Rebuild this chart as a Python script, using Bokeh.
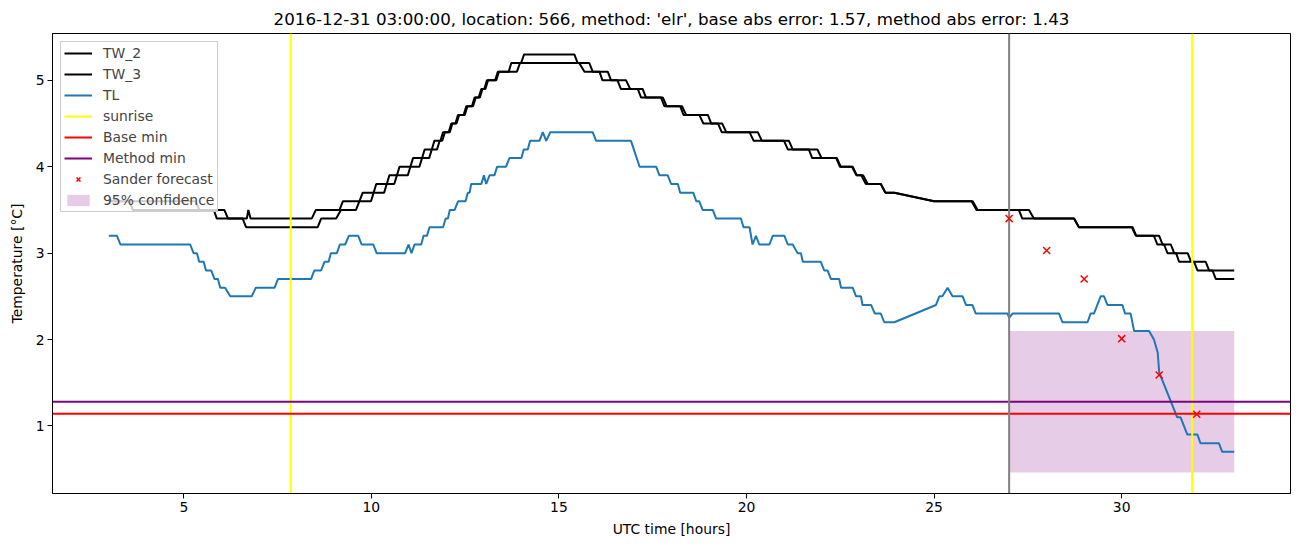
from bokeh.plotting import figure
from bokeh.models import Range1d, FixedTicker, Legend, LegendItem
from bokeh.embed import file_html
from bokeh.resources import INLINE

# ---------------- data ----------------
tw2_t = [3.0, 5.32, 5.41, 6.08, 6.18, 6.68, 6.72, 6.78, 8.41, 8.52, 9.15, 9.24, 9.68, 9.77, 10.06, 10.13,
         10.41, 10.48, 10.68, 10.75, 11.04, 11.11, 11.35, 11.42, 11.61, 11.68, 11.84, 11.91, 12.06, 12.13,
         12.24, 12.31, 12.46, 12.53, 12.68, 12.75, 12.86, 12.93, 13.01, 13.08, 13.3, 13.37, 13.66, 13.73,
         13.99, 14.07, 15.41, 15.5, 15.81, 15.9, 16.3, 16.39, 16.79, 16.9, 17.23, 17.32, 17.77, 17.87,
         18.28, 18.39, 18.97, 19.06, 19.35, 19.46, 20.3, 20.41, 21.13, 21.23, 21.89, 22.0, 22.41, 22.51,
         22.83, 22.94, 23.11, 23.23, 23.58, 23.7, 23.94, 25.0, 26.03, 26.16, 27.53, 27.66, 28.73, 28.86,
         30.29, 30.39, 31.0, 31.09, 31.31, 31.4, 31.76, 31.85, 32.24, 32.33, 33.0]
tw2_v = [3.6, 3.6, 3.5, 3.5, 3.4, 3.4, 3.5, 3.4, 3.4, 3.5, 3.5, 3.6, 3.6, 3.7, 3.7, 3.8,
         3.8, 3.9, 3.9, 4.0, 4.0, 4.1, 4.1, 4.2, 4.2, 4.3, 4.3, 4.4, 4.4, 4.5,
         4.5, 4.6, 4.6, 4.7, 4.7, 4.8, 4.8, 4.9, 4.9, 5.0, 5.0, 5.1, 5.1, 5.2,
         5.2, 5.3, 5.3, 5.2, 5.2, 5.1, 5.1, 5.0, 5.0, 4.9, 4.9, 4.8, 4.8, 4.7,
         4.7, 4.6, 4.6, 4.5, 4.5, 4.4, 4.4, 4.3, 4.3, 4.2, 4.2, 4.1, 4.1, 4.0,
         4.0, 3.9, 3.9, 3.8, 3.8, 3.7, 3.7, 3.6, 3.6, 3.5, 3.5, 3.4, 3.4, 3.3,
         3.3, 3.2, 3.2, 3.1, 3.1, 3.0, 3.0, 2.9, 2.9, 2.8, 2.8]

tw3_t = [3.0, 3.55, 3.64, 5.8, 5.88, 6.57, 6.66, 8.57, 8.66, 9.06, 9.19, 9.59, 9.68, 9.99, 10.06, 10.34,
         10.41, 10.61, 10.68, 10.97, 11.04, 11.28, 11.35, 11.54, 11.61, 11.75, 11.82, 11.89, 11.96, 12.09,
         12.16, 12.27, 12.34, 12.49, 12.56, 12.71, 12.78, 12.89, 12.96, 13.04, 13.11, 13.33, 13.4, 13.88,
         13.96, 15.54, 15.68, 16.08, 16.16, 16.56, 16.65, 17.1, 17.19, 17.72, 17.81, 18.23, 18.32, 18.74,
         18.85, 19.24, 19.34, 20.08, 20.19, 21.0, 21.1, 21.66, 21.75, 22.39, 22.49, 22.81, 22.93, 23.06,
         23.18, 23.58, 23.7, 23.94, 25.0, 26.0, 26.13, 27.26, 27.35, 28.73, 28.86, 30.27, 30.38, 30.86,
         30.95, 31.13, 31.22, 31.45, 31.53, 31.93, 32.02, 32.42, 32.51, 33.0]
tw3_v = [3.6, 3.6, 3.5, 3.5, 3.4, 3.4, 3.3, 3.3, 3.4, 3.4, 3.5, 3.5, 3.6, 3.6, 3.7, 3.7,
         3.8, 3.8, 3.9, 3.9, 4.0, 4.0, 4.1, 4.1, 4.2, 4.2, 4.3, 4.3, 4.4, 4.4,
         4.5, 4.5, 4.6, 4.6, 4.7, 4.7, 4.8, 4.8, 4.9, 4.9, 5.0, 5.0, 5.1, 5.1,
         5.2, 5.2, 5.1, 5.1, 5.0, 5.0, 4.9, 4.9, 4.8, 4.8, 4.7, 4.7, 4.6, 4.6,
         4.5, 4.5, 4.4, 4.4, 4.3, 4.3, 4.2, 4.2, 4.1, 4.1, 4.0, 4.0, 3.9, 3.9,
         3.8, 3.8, 3.7, 3.7, 3.6, 3.6, 3.5, 3.5, 3.4, 3.4, 3.3, 3.3, 3.2, 3.2,
         3.1, 3.1, 3.0, 3.0, 2.9, 2.9, 2.8, 2.8, 2.7, 2.7]

tl_t = [3.0, 3.22, 3.31, 5.17, 5.26, 5.35, 5.41, 5.53, 5.59, 5.73, 5.82, 5.91, 5.97, 6.1, 6.24, 6.81,
        6.92, 7.42, 7.51, 8.39, 8.48, 8.66, 8.75, 8.86, 8.92, 9.08, 9.16, 9.3, 9.4, 9.65, 9.74, 10.05,
        10.14, 10.9, 10.99, 11.07, 11.15, 11.33, 11.39, 11.48, 11.55, 11.91, 11.98, 12.04, 12.09, 12.22,
        12.31, 12.51, 12.57, 12.62, 12.66, 12.93, 13.0, 13.06, 13.15, 13.28, 13.35, 13.59, 13.68, 14.0,
        14.06, 14.17, 14.23, 14.48, 14.57, 14.66, 14.77, 15.9, 15.99, 16.92, 17.15, 17.59, 17.68, 17.9,
        17.99, 18.17, 18.23, 18.58, 18.66, 18.74, 18.83, 19.1, 19.19, 19.85, 19.92, 20.08, 20.16, 20.25,
        20.34, 20.61, 20.7, 21.01, 21.1, 21.23, 21.36, 21.45, 21.5, 21.98, 22.07, 22.16, 22.25, 22.47,
        22.52, 22.83, 22.92, 23.05, 23.09, 23.32, 23.42, 23.58, 23.67, 23.94, 25.05, 25.14, 25.22, 25.36,
        25.49, 25.76, 25.85, 26.02, 26.11, 26.96, 27.0, 27.09, 28.33, 28.42, 29.09, 29.17, 29.26, 29.44,
        29.53, 29.62, 30.02, 30.09, 30.24, 30.33, 30.73, 30.86, 30.96, 31.0, 31.48, 31.57, 31.75, 32.02,
        32.1, 32.59, 32.68, 33.0]
tl_v = [3.2, 3.2, 3.1, 3.1, 3.0, 3.0, 2.9, 2.9, 2.8, 2.8, 2.7, 2.7, 2.6, 2.6, 2.5, 2.5,
        2.6, 2.6, 2.7, 2.7, 2.8, 2.8, 2.9, 2.9, 3.0, 3.0, 3.1, 3.1, 3.2, 3.2, 3.1, 3.1,
        3.0, 3.0, 3.1, 3.0, 3.1, 3.1, 3.2, 3.2, 3.3, 3.3, 3.4, 3.4, 3.5, 3.5,
        3.6, 3.6, 3.7, 3.7, 3.8, 3.8, 3.9, 3.8, 3.9, 3.9, 4.0, 4.0, 4.1, 4.1,
        4.2, 4.2, 4.3, 4.3, 4.4, 4.3, 4.4, 4.4, 4.3, 4.3, 4.0, 4.0, 3.9, 3.9,
        3.8, 3.8, 3.7, 3.7, 3.6, 3.6, 3.5, 3.5, 3.4, 3.4, 3.3, 3.3, 3.1, 3.2,
        3.1, 3.1, 3.2, 3.2, 3.1, 3.1, 3.0, 3.0, 2.9, 2.9, 2.8, 2.8, 2.7, 2.7,
        2.6, 2.6, 2.5, 2.5, 2.4, 2.4, 2.3, 2.3, 2.2, 2.2, 2.4, 2.5, 2.5, 2.6,
        2.5, 2.5, 2.4, 2.4, 2.3, 2.3, 2.25, 2.3, 2.3, 2.2, 2.2, 2.3, 2.3, 2.5,
        2.5, 2.4, 2.4, 2.3, 2.3, 2.1, 2.1, 2.0, 1.85, 1.62, 1.1, 1.1, 0.9, 0.9,
        0.8, 0.8, 0.7, 0.7]

sunrise = [7.85, 31.88]
forecast_time = [27.0]
base_min = [1.14]
method_min = [1.28]
fc_t = [27, 28, 29, 30, 31, 32]
fc_v = [3.40, 3.03, 2.70, 2.01, 1.59, 1.135]
band_t = [27.0, 33.0]
band_lo = [0.46, 0.46]
band_hi = [2.10, 2.10]

x_ticks = [5, 10, 15, 20, 25, 30]
y_ticks = [1, 2, 3, 4, 5]
x_lim = (1.5, 34.5)
y_lim = (0.218, 5.542)

title = "2016-12-31 03:00:00, location: 566, method: 'elr', base abs error: 1.57, method abs error: 1.43"

FONT = "DejaVu Sans"

p = figure(width=1302, height=547, output_backend="svg", toolbar_location=None,
           x_range=Range1d(*x_lim), y_range=Range1d(*y_lim), title=title)
p.min_border_left = 52
p.min_border_right = 12
p.min_border_top = 33
p.min_border_bottom = 54

p.title.align = "center"
p.title.text_font = FONT
p.title.text_font_size = "16.7px"
p.title.text_font_style = "normal"
p.title.text_color = "black"

p.xgrid.visible = False
p.ygrid.visible = False
p.outline_line_color = "black"
p.outline_line_alpha = 1.0
p.outline_line_width = 1

for ax in (p.xaxis[0], p.yaxis[0]):
    ax.major_label_text_font = FONT
    ax.major_label_text_font_size = "13.9px"
    ax.major_label_text_color = "black"
    ax.axis_label_text_font = FONT
    ax.axis_label_text_font_size = "13.9px"
    ax.axis_label_text_font_style = "normal"
    ax.axis_label_text_color = "black"
    ax.minor_tick_line_color = None
    ax.major_tick_in = 0
    ax.major_tick_out = 5
    ax.major_tick_line_color = "black"
    ax.axis_line_color = "black"
    ax.major_label_standoff = 3

p.xaxis[0].ticker = FixedTicker(ticks=x_ticks)
p.yaxis[0].ticker = FixedTicker(ticks=y_ticks)
p.xaxis[0].axis_label = "UTC time [hours]"
p.yaxis[0].axis_label = "Temperature [°C]"
p.xaxis[0].axis_label_standoff = 6
p.yaxis[0].axis_label_standoff = 8

r_band = p.varea(x=band_t, y1=band_lo, y2=band_hi, fill_color="purple", fill_alpha=0.2)
r_tw2 = p.line(tw2_t, tw2_v, line_color="black", line_width=2)
r_tw3 = p.line(tw3_t, tw3_v, line_color="black", line_width=2)
r_tl = p.line(tl_t, tl_v, line_color="#1f77b4", line_width=2)

n = len(sunrise)
r_sun = p.segment(x0=sunrise, x1=sunrise, y0=[y_lim[0]] * n, y1=[y_lim[1]] * n,
                  line_color="yellow", line_width=2)
r_base = p.segment(x0=[x_lim[0]], x1=[x_lim[1]], y0=base_min, y1=base_min,
                   line_color="red", line_width=2)
r_meth = p.segment(x0=[x_lim[0]], x1=[x_lim[1]], y0=method_min, y1=method_min,
                   line_color="purple", line_width=2)
p.segment(x0=forecast_time, x1=forecast_time, y0=[y_lim[0]], y1=[y_lim[1]],
          line_color="grey", line_width=2)

r_fc = p.scatter(fc_t, fc_v, marker="x", size=10, line_color="red", line_width=1.5)

legend = Legend(items=[
    LegendItem(label="TW_2", renderers=[r_tw2]),
    LegendItem(label="TW_3", renderers=[r_tw3]),
    LegendItem(label="TL", renderers=[r_tl]),
    LegendItem(label="sunrise", renderers=[r_sun]),
    LegendItem(label="Base min", renderers=[r_base]),
    LegendItem(label="Method min", renderers=[r_meth]),
    LegendItem(label="Sander forecast", renderers=[r_fc]),
    LegendItem(label="95% confidence", renderers=[r_band]),
], location="top_left")
legend.label_text_font = FONT
legend.label_text_font_size = "13.9px"
legend.glyph_width = 28
legend.glyph_height = 14
legend.label_height = 14
legend.spacing = 5
legend.padding = 3
legend.margin = 8
legend.label_standoff = 11
legend.border_line_color = "#cccccc"
legend.border_line_alpha = 1.0
legend.background_fill_alpha = 0.8
p.add_layout(legend)

open("out.html", "w").write(file_html(p, INLINE))
